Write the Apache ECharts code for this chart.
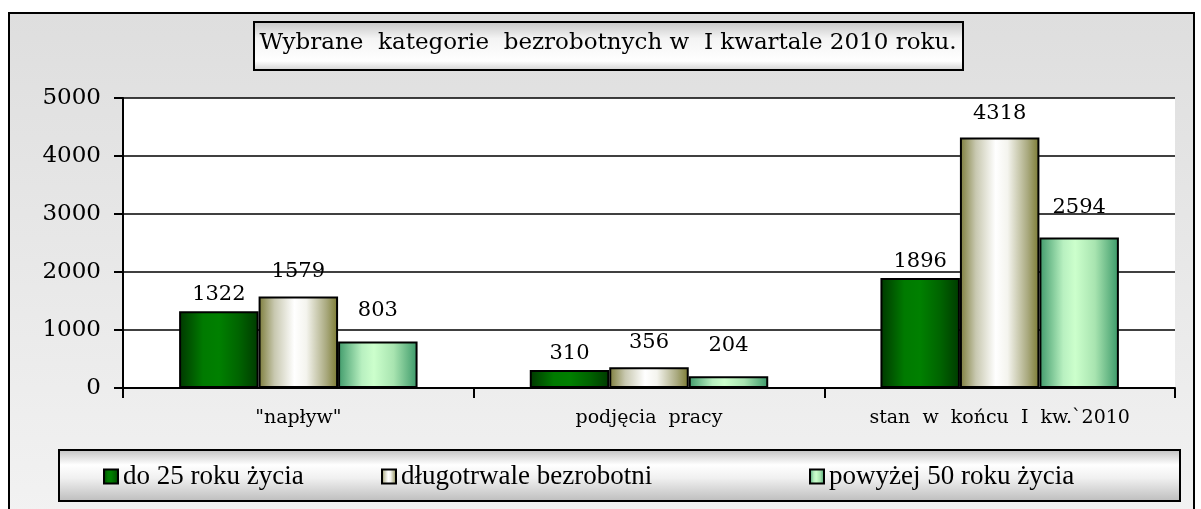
<!DOCTYPE html>
<html>
<head>
<meta charset="utf-8">
<script src="https://cdn.jsdelivr.net/npm/echarts@6/dist/echarts.min.js"></script>
<style>
  html, body { margin: 0; padding: 0; background: #fff; }
  #chart { width: 1201px; height: 509px; }
</style>
</head>
<body>
<div id="chart"></div>
<script>
// dane z wykresu
const categories = ['"napływ"', 'podjęcia  pracy', 'stan  w  końcu  I  kw.`2010']
const seriesNames = ['do 25 roku życia', 'długotrwale bezrobotni', 'powyżej 50 roku życia']
const under25 = [1322, 310, 1896]
const longTerm = [1579, 356, 4318]
const over50 = [803, 204, 2594]
const yTicks = [0, 1000, 2000, 3000, 4000, 5000]

const font = '"Liberation Serif", "Times New Roman", serif'
const wideFont = '"DejaVu Serif", serif'

// gradienty
const barGradient = (stops) => ({
  type: 'linear', x: 0, y: 0, x2: 1, y2: 0,
  colorStops: stops.map(([offset, color]) => ({ offset, color }))
})
const vGradient = (stops) => ({
  type: 'linear', x: 0, y: 0, x2: 0, y2: 1,
  colorStops: stops.map(([offset, color]) => ({ offset, color }))
})

const fills = [
  barGradient([[0, '#003800'], [0.3, '#007a00'], [0.5, '#008000'], [0.75, '#006400'], [1, '#003a00']]),
  barGradient([[0, '#7c7c3a'], [0.2, '#c8c8b0'], [0.45, '#ffffff'], [0.6, '#f4f4ee'], [0.85, '#aaaa80'], [1, '#7a7a30']]),
  barGradient([[0, '#3f9a6a'], [0.3, '#b8f0c0'], [0.45, '#ccffcc'], [0.7, '#a8e4b0'], [1, '#3a9868']])
]
const labelDist = [6, 14, 20]
const legendLeft = [103, 381, 809]
const dataSets = [under25, longTerm, over50]

const chart = echarts.init(document.getElementById('chart'))

chart.setOption({
  animation: false,
  graphic: [
    {
      type: 'rect',
      z: -10,
      shape: { x: 9, y: 13, width: 1185, height: 500 },
      style: { fill: vGradient([[0, '#dedede'], [1, '#f2f2f2']]), stroke: '#000', lineWidth: 2 }
    },
    {
      type: 'rect',
      z: -5,
      shape: { x: 254, y: 22, width: 709, height: 48 },
      style: { fill: vGradient([[0, '#c4c4c4'], [0.35, '#f4f4f4'], [0.8, '#ffffff'], [1, '#cfcfcf']]), stroke: '#000', lineWidth: 2 }
    },
    {
      type: 'rect',
      z: -5,
      shape: { x: 59, y: 450, width: 1121, height: 51 },
      style: { fill: vGradient([[0, '#c0c0c0'], [0.3, '#ffffff'], [0.55, '#f0f0f0'], [1, '#bcbcbc']]), stroke: '#000', lineWidth: 2 }
    }
  ],
  title: {
    text: 'Wybrane  kategorie  bezrobotnych w  I kwartale 2010 roku.',
    left: 608,
    top: 32,
    textAlign: 'center',
    padding: 0,
    textStyle: { fontFamily: wideFont, fontSize: 23, fontWeight: 'normal', color: '#000' }
  },
  // każda pozycja legendy osobno, żeby ustawić odstępy jak w oryginale
  legend: seriesNames.map((name, i) => ({
    data: [name],
    left: legendLeft[i],
    top: 463,
    padding: 0,
    icon: 'rect',
    itemWidth: 14,
    itemHeight: 14,
    textStyle: { fontFamily: font, fontSize: 27, color: '#000' },
    selectedMode: false
  })),
  grid: {
    left: 123,
    right: 26,
    top: 98,
    bottom: 121,
    show: true,
    backgroundColor: '#fff',
    borderWidth: 0
  },
  xAxis: {
    type: 'category',
    data: categories,
    axisLine: { lineStyle: { color: '#000', width: 2 } },
    axisTick: { show: true, length: 10, lineStyle: { color: '#000', width: 2 } },
    axisLabel: { fontFamily: wideFont, fontSize: 19, color: '#000', margin: 21 }
  },
  yAxis: {
    type: 'value',
    min: yTicks[0],
    max: yTicks[yTicks.length - 1],
    interval: 1000,
    axisLine: { show: true, lineStyle: { color: '#000', width: 2 } },
    axisTick: { show: true, length: 9, lineStyle: { color: '#000', width: 2 } },
    axisLabel: { fontFamily: wideFont, fontSize: 23, color: '#000', margin: 22, formatter: (v) => String(v) },
    splitLine: { lineStyle: { color: '#000', width: 1.5 } }
  },
  series: seriesNames.map((name, i) => ({
    name,
    type: 'bar',
    data: dataSets[i],
    barGap: '0%',
    barCategoryGap: '32%',
    itemStyle: { color: fills[i], borderColor: '#000', borderWidth: 2 },
    label: {
      show: true,
      position: 'top',
      distance: labelDist[i],
      fontFamily: wideFont,
      fontSize: 21,
      color: '#000'
    }
  }))
})
</script>
</body>
</html>
